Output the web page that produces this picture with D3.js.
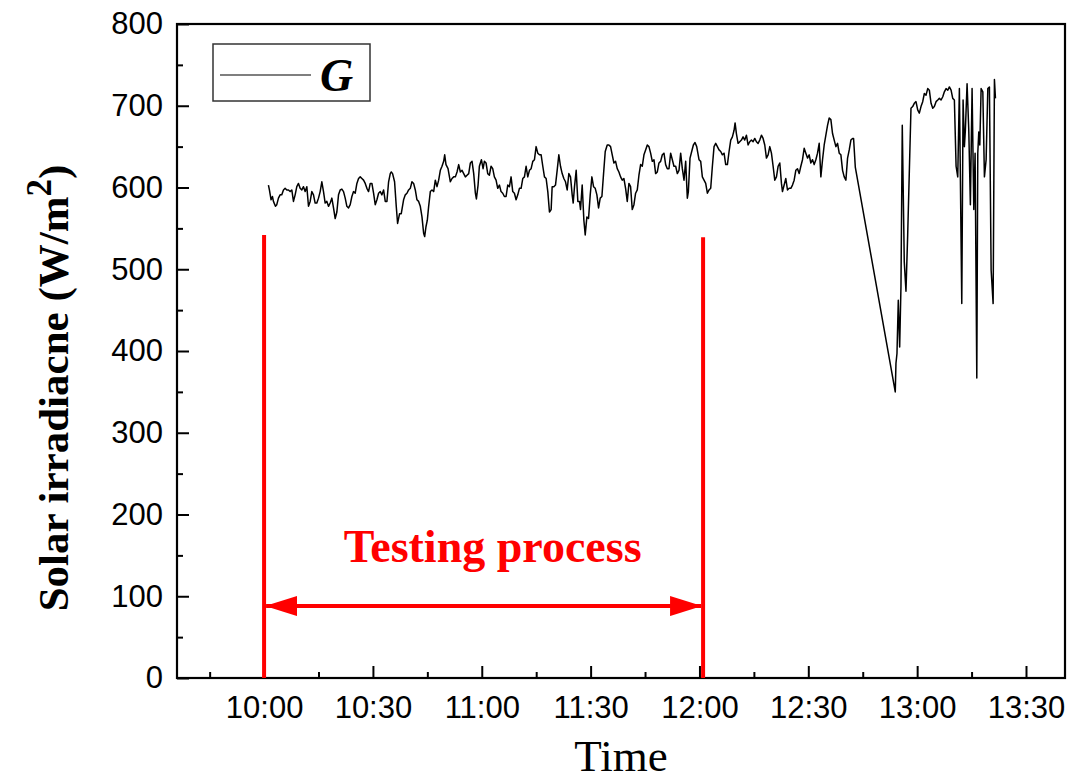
<!DOCTYPE html>
<html>
<head>
<meta charset="utf-8">
<script src="https://cdn.jsdelivr.net/npm/d3@7"></script>
<style>
  body { margin: 0; background: #fff; }
  .tick text { font-family: "Liberation Sans", Arial, sans-serif; font-size: 31px; fill: #000; }
</style>
</head>
<body>
<div id="container"></div>
<script>
// minutes after 10:00 and solar irradiance G (W/m2)
var minutes = [
  1.20, 1.47, 1.93, 2.30, 2.58, 3.13, 3.50, 3.96, 4.42, 4.88, 5.34, 5.80, 6.26, 6.72, 7.18, 7.64,
  8.10, 8.56, 9.02, 9.48, 9.94, 10.40, 10.86, 11.32, 11.78, 12.24, 12.70, 13.16, 13.62, 14.08, 14.54,
  15.00, 15.46, 15.92, 16.38, 16.84, 17.30, 17.76, 18.22, 18.68, 19.14, 19.60, 20.06, 20.52, 20.98,
  21.44, 21.90, 22.36, 22.82, 23.28, 23.74, 24.20, 24.66, 25.12, 25.58, 26.04, 26.50, 26.96, 27.42,
  27.88, 28.34, 28.80, 29.26, 29.72, 30.18, 30.64, 31.10, 31.56, 32.02, 32.48, 32.94, 33.40, 33.86,
  34.32, 34.78, 35.06, 35.42, 35.97, 36.43, 36.80, 37.35, 37.81, 38.45,
  38.92, 39.38, 39.84, 40.30, 40.76, 41.22, 41.68, 42.14, 42.60, 43.06, 43.52, 43.98, 44.26, 44.62,
  44.99, 45.36, 45.82, 46.28, 46.74, 47.20, 47.66, 48.12, 48.58, 49.04, 49.50, 49.78, 50.14, 50.70,
  51.34, 51.80, 52.26, 52.72, 53.18, 53.64, 54.10, 54.56, 55.02, 55.48, 55.94, 56.40, 56.86, 57.32,
  57.78, 58.24, 58.52, 58.98, 59.34, 59.90, 60.36, 60.72, 61.18, 61.64, 62.10, 62.56, 63.02, 63.48,
  63.94, 64.40, 64.86, 65.32, 65.78, 66.24, 66.70, 67.16, 67.62, 68.08, 68.54, 69.00, 69.46, 69.92,
  70.38, 70.84, 71.30, 71.76, 72.22, 72.68, 73.14, 73.60, 74.06, 74.52, 74.98, 75.44, 75.90, 76.36,
  76.82, 77.28, 77.74, 78.20, 78.66,
  79.12, 79.40, 79.86, 80.32, 80.78, 81.24, 81.70, 82.16, 82.62, 83.08, 83.54, 84.00, 84.46, 84.92,
  85.20, 85.56, 86.02, 86.48, 86.94, 87.22, 87.68, 88.14, 88.51, 88.97, 89.43, 89.89, 90.35, 90.81,
  91.27, 91.73, 92.19, 92.65, 93.11, 93.57, 94.03, 94.58, 95.04, 95.50, 95.96, 96.42, 96.88, 97.34,
  97.80, 98.26, 98.72, 99.18, 99.64, 100.10, 100.56, 101.02, 101.48, 101.94, 102.40, 102.86, 103.32,
  103.78, 104.24, 104.70, 105.16, 105.62, 106.08, 106.54, 107.00, 107.46, 107.92, 108.38, 108.84,
  109.30, 109.76, 110.22, 110.68, 111.14, 111.60, 112.06, 112.52, 112.98, 113.44, 113.90, 114.36,
  114.82, 115.28, 115.74, 116.20, 116.66, 116.94, 117.40, 117.86, 118.32, 118.78, 119.24,
  119.88, 120.34, 120.80, 121.26, 121.72, 122.18, 122.64, 123.10, 123.56, 124.02, 124.48, 124.94,
  125.40, 125.86, 126.32, 126.78, 127.24, 127.70, 128.16, 128.62, 129.08, 129.54, 129.82, 130.18,
  130.64, 131.10, 131.56, 132.02, 132.48, 132.94, 133.40, 133.86, 134.32, 134.78, 135.24, 135.70,
  136.16, 136.62, 137.08, 137.54, 138.00, 138.46, 138.92, 139.38, 139.84, 140.30, 140.76, 141.22,
  141.68, 142.14, 142.60, 142.88, 143.34, 143.80, 144.26, 144.72, 145.18, 145.64, 146.10, 146.56,
  147.02, 147.48, 147.94, 148.40, 148.86, 149.32, 149.78, 150.24, 150.70, 151.16, 151.62, 152.08,
  152.54, 153.00, 153.46, 153.92, 154.38, 154.84, 155.30, 155.76, 156.22, 156.68, 157.14, 157.60,
  158.06, 158.52, 158.98, 159.44, 159.90, 160.36, 160.82, 161.28, 161.74, 162.20, 162.48, 162.95,
  173.97, 174.16, 174.44, 174.80, 175.18, 175.54, 175.90, 176.45, 176.92, 177.39, 178.30, 178.77,
  179.21, 179.68, 180.15, 180.60, 181.06, 181.53, 181.98, 182.45, 182.91, 183.36, 183.83, 184.30,
  184.74, 185.21, 185.68, 186.12, 186.59, 187.06, 187.50, 187.97, 188.44, 188.88, 189.35, 189.81,
  190.26, 190.73, 191.19, 191.64, 192.30, 192.66, 193.02, 193.29, 193.76, 194.23, 194.67, 195.14,
  195.61, 195.97, 196.44, 196.71, 196.99, 197.27, 197.63, 198.10, 198.54, 199.01, 199.48, 199.92,
  200.39, 200.94, 201.30, 201.58
];
var irradiance = [
  603, 597, 585, 589, 583, 577, 579, 587, 591, 591, 597, 599, 597, 597, 595, 597,
  583, 591, 601, 605, 599, 597, 601, 595, 601, 577, 583, 595, 591, 581, 581,
  587, 595, 607, 595, 581, 583, 577, 581, 587, 575, 562, 570, 591, 597,
  598, 595, 587, 577, 575, 579, 589, 595, 593, 605, 611, 613, 611, 609,
  605, 599, 595, 605, 605, 593, 579, 585, 593, 595, 591, 597, 583, 583,
  607, 617, 619, 617, 607, 577, 556, 568, 568, 585,
  591, 593, 597, 599, 607, 605, 597, 585, 583, 577, 564, 544, 540, 552,
  560, 577, 595, 597, 595, 609, 601, 609, 621, 626, 632, 640, 628, 623,
  607, 611, 613, 613, 619, 628, 619, 621, 617, 613, 615, 617, 630, 632,
  617, 593, 586, 603, 626, 634, 623, 632, 630, 617, 615, 626, 623, 613,
  609, 599, 603, 595, 593, 589, 589, 603, 601, 613, 595, 593, 585, 591,
  599, 599, 611, 613, 626, 613, 621, 623, 632, 634, 650, 642, 640, 640,
  626, 613, 611, 595, 570,
  573, 601, 601, 603, 621, 640, 626, 617, 611, 607, 597, 617, 613, 591,
  581, 601, 621, 583, 583, 573, 603, 560, 542, 564, 562, 591, 613, 601,
  599, 591, 575, 587, 589, 617, 644, 652, 652, 650, 640, 630, 632, 623,
  619, 613, 609, 611, 599, 583, 605, 601, 573, 579, 593, 597, 615,
  628, 626, 640, 646, 652, 650, 642, 632, 634, 617, 619, 630,
  632, 640, 642, 628, 623, 623, 642, 634, 626, 626, 617, 621,
  642, 623, 609, 632, 587, 595, 636, 644, 652, 655, 650,
  634, 632, 613, 609, 605, 593, 597, 599, 626, 650, 654, 650,
  646, 644, 640, 642, 628, 628, 644, 658, 662, 670, 679, 666,
  654, 656, 658, 662, 658, 664, 652, 656, 658, 656, 660, 656,
  654, 658, 664, 660, 652, 636, 640, 650, 642, 626, 609, 613,
  626, 630, 605, 595, 603, 611, 597, 599, 599, 603, 609, 621,
  623, 617, 626, 634, 648, 642, 636, 640, 630, 634, 628, 634,
  642, 654, 613, 634, 652, 664, 676, 685, 683, 666, 658, 650,
  654, 642, 640, 621, 613, 609, 636, 646, 658, 660, 660, 625,
  350, 385, 397, 462, 405, 479, 676, 509, 473, 542, 697, 699,
  703, 705, 695, 691, 699, 705, 715, 713, 721, 719, 703, 697,
  699, 705, 707, 709, 707, 711, 717, 721, 719, 723, 719, 709,
  707, 626, 613, 721, 458, 707, 650, 670, 727, 670, 579, 721,
  573, 642, 367, 642, 668, 652, 721, 717, 613, 634, 721, 723,
  499, 458, 732, 709
];

var yTicks = [0, 100, 200, 300, 400, 500, 600, 700, 800];
var yMinorTicks = [50, 150, 250, 350, 450, 550, 650, 750];
var xTicks = ["10:00", "10:30", "11:00", "11:30", "12:00", "12:30", "13:00", "13:30"];
var xMinorTicks = ["09:45", "10:15", "10:45", "11:15", "11:45", "12:15", "12:45", "13:15"];
var xDomain = ["09:36:00", "13:40:45"];

var testWindow = ["10:00:00", "12:01:00"];
var testLineTop = [542, 539];
var arrowLevel = 88;
var testLabel = "Testing process";
var testLabelAt = ["11:03:00", 142];

var parseHM = d3.timeParse("%H:%M");
var parseHMS = d3.timeParse("%H:%M:%S");
var base = parseHM("10:00");

var data = minutes.map(function(m, i) {
  return { t: new Date(base.getTime() + m * 60000), g: irradiance[i] };
});

var W = 1076, H = 780;
var mLeft = 177, mRight = 1065, mTop = 24, mBottom = 678;

var svg = d3.select("#container").append("svg")
            .attr("width", W)
            .attr("height", H);

var x = d3.scaleTime()
          .domain(xDomain.map(parseHMS))
          .range([mLeft, mRight]);
var y = d3.scaleLinear()
          .domain([0, 800])
          .range([mBottom, mTop]);

// axes (ticks inward)
svg.append("g")
   .attr("transform", "translate(0," + mBottom + ")")
   .call(d3.axisBottom(x)
           .tickValues(xTicks.map(parseHM))
           .tickFormat(d3.timeFormat("%H:%M"))
           .tickSize(-12)
           .tickPadding(18));
svg.append("g")
   .attr("transform", "translate(0," + mBottom + ")")
   .call(d3.axisBottom(x)
           .tickValues(xMinorTicks.map(parseHM))
           .tickFormat("")
           .tickSize(-6));

svg.append("g")
   .attr("transform", "translate(" + mLeft + ",0)")
   .call(d3.axisLeft(y)
           .tickValues(yTicks)
           .tickSize(-12)
           .tickPadding(14));
svg.append("g")
   .attr("transform", "translate(" + mLeft + ",0)")
   .call(d3.axisLeft(y)
           .tickValues(yMinorTicks)
           .tickFormat("")
           .tickSize(-6));

svg.selectAll(".domain").remove();
svg.selectAll(".tick line").attr("stroke", "#000").attr("stroke-width", 2);

svg.append("rect")
   .attr("x", mLeft)
   .attr("y", mTop)
   .attr("width", mRight - mLeft)
   .attr("height", mBottom - mTop)
   .attr("fill", "none")
   .attr("stroke", "#000")
   .attr("stroke-width", 2.2);

// data line
var line = d3.line()
             .x(function(d) { return x(d.t); })
             .y(function(d) { return y(d.g); });

svg.append("path")
   .datum(data)
   .attr("d", line)
   .attr("fill", "none")
   .attr("stroke", "#000")
   .attr("stroke-width", 1.5)
   .attr("stroke-linejoin", "round");

// testing window marks
var red = "#ff0000";
svg.selectAll(".testline")
   .data(testWindow)
   .enter()
   .append("line")
   .attr("class", "testline")
   .attr("x1", function(d) { return x(parseHMS(d)); })
   .attr("x2", function(d) { return x(parseHMS(d)); })
   .attr("y1", function(d, i) { return y(testLineTop[i]); })
   .attr("y2", y(0))
   .attr("stroke", red)
   .attr("stroke-width", 4);

var defs = svg.append("defs");
defs.append("marker")
    .attr("id", "ahead")
    .attr("markerUnits", "userSpaceOnUse")
    .attr("viewBox", "0 0 32 20")
    .attr("refX", 31)
    .attr("refY", 10)
    .attr("markerWidth", 32)
    .attr("markerHeight", 20)
    .attr("orient", "auto-start-reverse")
    .append("path")
    .attr("d", "M0,0 L32,10 L0,20 Z")
    .attr("fill", red);

svg.append("line")
   .attr("x1", x(parseHMS(testWindow[0])) + 2)
   .attr("x2", x(parseHMS(testWindow[1])) - 2)
   .attr("y1", y(arrowLevel))
   .attr("y2", y(arrowLevel))
   .attr("stroke", red)
   .attr("stroke-width", 4)
   .attr("marker-start", "url(#ahead)")
   .attr("marker-end", "url(#ahead)");

svg.append("text")
   .attr("x", x(parseHMS(testLabelAt[0])))
   .attr("y", y(testLabelAt[1]))
   .attr("text-anchor", "middle")
   .style("font-family", "'Liberation Serif', 'Times New Roman', serif")
   .style("font-weight", "bold")
   .style("font-size", "46px")
   .style("fill", red)
   .text(testLabel);

// legend
svg.append("rect")
   .attr("x", 213)
   .attr("y", 44)
   .attr("width", 157)
   .attr("height", 57)
   .attr("fill", "#fff")
   .attr("stroke", "#333")
   .attr("stroke-width", 1.5);
svg.append("line")
   .attr("x1", 220)
   .attr("x2", 311)
   .attr("y1", 75)
   .attr("y2", 75)
   .attr("stroke", "#000")
   .attr("stroke-width", 1.2);
svg.append("text")
   .attr("x", 320)
   .attr("y", 91)
   .style("font-family", "'Liberation Serif', 'Times New Roman', serif")
   .style("font-weight", "bold")
   .style("font-style", "italic")
   .style("font-size", "46px")
   .text("G");

// axis titles
svg.append("text")
   .attr("x", (mLeft + mRight) / 2)
   .attr("y", 771)
   .attr("text-anchor", "middle")
   .style("font-family", "'Liberation Serif', 'Times New Roman', serif")
   .style("font-size", "45px")
   .text("Time");

var yt = svg.append("text")
            .attr("transform", "translate(68,388) rotate(-90)")
            .attr("text-anchor", "middle")
            .style("font-family", "'Liberation Serif', 'Times New Roman', serif")
            .style("font-weight", "bold")
            .style("font-size", "43px");
yt.append("tspan").text("Solar irradiacne (W/m");
yt.append("tspan").attr("dy", -17).style("font-size", "35px").text("2");
yt.append("tspan").attr("dy", 17).text(")");
</script>
</body>
</html>
